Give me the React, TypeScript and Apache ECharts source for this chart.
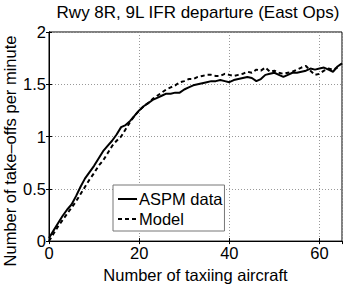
import React, { useEffect, useRef } from "react";
import * as echarts from "echarts";

const aspmX = [0,1,2,3,4,5,6,7,8,9,10,11,12,13,14,15,16,17,18,19,20,21,22,23,24,25,26,27,28,29,30,31,32,33,34,35,36,37,38,39,40,41,42,43,44,45,46,47,48,49,50,51,52,53,54,55,56,57,58,59,60,61,62,63,64,65];
const aspmY = [0.03,0.10,0.17,0.24,0.30,0.35,0.43,0.52,0.60,0.66,0.72,0.79,0.86,0.91,0.96,1.02,1.09,1.11,1.15,1.20,1.25,1.29,1.32,1.35,1.37,1.39,1.41,1.41,1.42,1.42,1.45,1.47,1.49,1.50,1.51,1.52,1.53,1.53,1.54,1.53,1.52,1.54,1.55,1.56,1.57,1.56,1.53,1.55,1.59,1.60,1.61,1.59,1.57,1.59,1.61,1.61,1.62,1.63,1.65,1.64,1.65,1.66,1.64,1.62,1.67,1.70];
const modelX = [0,1,2,3,4,5,6,7,8,9,10,11,12,13,14,15,16,17,18,19,20,21,22,23,24,25,26,27,28,29,30,31,32,33,34,35,36,37,38,39,40,41,42,43,44,45,46,47,48,49,50,51,52,53,54,55,56,57,58,59,60,61,62,63,64];
const modelY = [0.00,0.07,0.14,0.20,0.26,0.32,0.38,0.45,0.52,0.59,0.65,0.72,0.77,0.84,0.91,0.96,1.00,1.07,1.14,1.20,1.25,1.29,1.32,1.36,1.39,1.42,1.45,1.47,1.49,1.52,1.53,1.55,1.55,1.57,1.58,1.59,1.59,1.58,1.58,1.60,1.59,1.58,1.59,1.60,1.62,1.61,1.64,1.63,1.66,1.62,1.63,1.61,1.60,1.61,1.62,1.64,1.66,1.675,1.63,1.59,1.60,1.63,1.65,1.64,1.66];

const seriesNames = ["ASPM data", "Model"];
const titleText = "Rwy 8R, 9L IFR departure (East Ops)";
const xName = "Number of taxiing aircraft";
const yName = "Number of take\u2013offs per minute";

const FONT = "'Liberation Sans', Arial, Helvetica, sans-serif";
const FS = 16.5;

export default function App() {
  const ref = useRef<HTMLDivElement>(null);
  useEffect(() => {
    document.body.style.margin = "0";
    const chart = echarts.init(ref.current!, null, { renderer: "svg" });
    const grid = { left: 49, right: 4, top: 32, bottom: 36, show: true, borderColor: "#000", borderWidth: 1, backgroundColor: "#fff" };
    const splitLine = { show: true, lineStyle: { color: "#999", type: [1, 2] as any, width: 1 } };
    chart.setOption({
      animation: false,
      backgroundColor: "#fff",
      textStyle: { fontFamily: FONT },
      title: {
        text: titleText,
        left: 198,
        top: 4,
        padding: 0,
        textAlign: "center",
        textStyle: { fontFamily: FONT, fontSize: 17, fontWeight: "normal", color: "#000" },
      },
      grid,
      legend: {
        data: seriesNames,
        orient: "vertical",
        left: 113,
        top: 185,
        padding: [5, 2, 3, 4],
        itemWidth: 19,
        itemHeight: 14,
        itemGap: 2,
        borderColor: "#777",
        borderWidth: 1,
        backgroundColor: "#fff",
        itemStyle: { color: "rgba(0,0,0,0)", borderWidth: 0, opacity: 0 },
        textStyle: { fontFamily: FONT, fontSize: FS, color: "#000", lineHeight: 18, padding: [0, 0, 0, -3] },
      },
      xAxis: [
        {
          type: "value",
          min: 0,
          max: 65,
          interval: 20,
          position: "bottom",
          axisLine: { show: true, lineStyle: { color: "#000", width: 1 } },
          axisTick: { show: true, inside: true, length: 3, lineStyle: { color: "#000" } },
          axisLabel: { show: true, showMaxLabel: false, margin: 3, fontFamily: FONT, fontSize: FS, color: "#000" },
          splitLine,
          name: xName,
          nameLocation: "middle",
          nameGap: 17,
          nameTextStyle: { fontFamily: FONT, fontSize: FS, color: "#000" },
        },
        {
          type: "value",
          min: 0,
          max: 65,
          interval: 20,
          position: "top",
          axisLine: { show: true, lineStyle: { color: "#000", width: 1 } },
          axisTick: { show: true, inside: true, length: 3, lineStyle: { color: "#000" } },
          axisLabel: { show: false },
          splitLine: { show: false },
        },
      ],
      yAxis: [
        {
          type: "value",
          min: 0,
          max: 2,
          interval: 0.5,
          position: "left",
          axisLine: { show: true, lineStyle: { color: "#000", width: 1 } },
          axisTick: { show: true, inside: true, length: 3, lineStyle: { color: "#000" } },
          axisLabel: { show: true, margin: 3, fontFamily: FONT, fontSize: FS, color: "#000" },
          splitLine,
        },
        {
          type: "value",
          min: 0,
          max: 2,
          interval: 0.5,
          position: "right",
          axisLine: { show: true, lineStyle: { color: "#000", width: 1 } },
          axisTick: { show: true, inside: true, length: 3, lineStyle: { color: "#000" } },
          axisLabel: { show: false },
          splitLine: { show: false },
        },
      ],
      graphic: [
        {
          type: "text",
          x: 10,
          y: 151,
          rotation: Math.PI / 2,
          style: {
            text: yName,
            font: `${FS}px ${FONT}`,
            fill: "#000",
            align: "center",
            verticalAlign: "middle",
          },
        },
      ],
      series: [
        {
          name: seriesNames[0],
          type: "line",
          xAxisIndex: 0,
          yAxisIndex: 0,
          showSymbol: false,
          symbol: "none",
          data: aspmX.map((x, i) => [x, aspmY[i]]),
          lineStyle: { color: "#000", width: 2, type: "solid" },
          itemStyle: { color: "#000" },
          z: 3,
        },
        {
          name: seriesNames[1],
          type: "line",
          xAxisIndex: 0,
          yAxisIndex: 0,
          showSymbol: false,
          symbol: "none",
          data: modelX.map((x, i) => [x, modelY[i]]),
          lineStyle: { color: "#000", width: 2, type: [4, 3] as any },
          itemStyle: { color: "#000" },
          z: 2,
        },
      ],
    });
    return () => chart.dispose();
  }, []);
  return <div ref={ref} style={{ width: 346, height: 288 }} />;
}
